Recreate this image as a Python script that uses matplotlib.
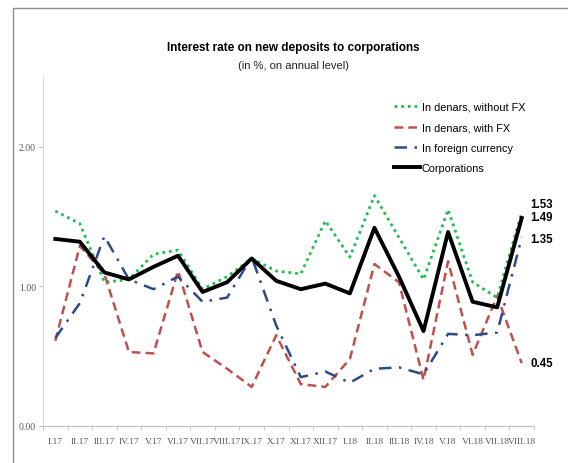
import matplotlib.pyplot as plt
from matplotlib.patches import Rectangle

# month labels
months = ["I.17", "II.17", "III.17", "IV.17", "V.17", "VI.17", "VII.17", "VIII.17",
          "IX.17", "X.17", "XI.17", "XII.17", "I.18", "II.18", "III.18", "IV.18",
          "V.18", "VI.18", "VII.18", "VIII.18"]

# series (in %)
without_fx = [1.54, 1.45, 1.03, 1.05, 1.23, 1.26, 0.98, 1.07, 1.20, 1.11,
              1.09, 1.47, 1.21, 1.65, 1.35, 1.05, 1.55, 1.03, 0.92, 1.53]
with_fx = [0.61, 1.29, 1.09, 0.53, 0.52, 1.11, 0.53, 0.41, 0.28, 0.65,
           0.30, 0.28, 0.48, 1.16, 1.03, 0.33, 1.18, 0.51, 0.93, 0.45]
foreign = [0.63, 0.88, 1.36, 1.05, 0.98, 1.07, 0.89, 0.92, 1.21, 0.72,
           0.35, 0.39, 0.31, 0.41, 0.42, 0.37, 0.66, 0.65, 0.67, 1.35]
corporations = [1.34, 1.32, 1.10, 1.05, 1.14, 1.22, 0.96, 1.03, 1.20, 1.04,
                0.98, 1.02, 0.95, 1.42, 1.07, 0.68, 1.39, 0.89, 0.85, 1.49]

sans = ["Liberation Sans", "DejaVu Sans"]
serif = ["Liberation Serif", "DejaVu Serif"]

fig = plt.figure(figsize=(5.68, 4.64), dpi=100)
ax = fig.add_axes([43 / 568, 1 - 427 / 464, (534 - 43) / 568, (427 - 78) / 464])

# outer frame of the original picture
fig.patches.append(Rectangle((13 / 568, -0.1), 1.2, 1 - 9 / 464 + 0.1,
                             transform=fig.transFigure, fill=False,
                             edgecolor="#8c8c8c", linewidth=1.0))

x = list(range(len(months)))
ax.plot(x, without_fx, color="#1fbf4f", linestyle=(0, (1, 1.4)), linewidth=2,
        label="In denars, without FX")
ax.plot(x, with_fx, color="#c0504d", linestyle=(0, (3.5, 2)), linewidth=1.8,
        label="In denars, with FX")
ax.plot(x, foreign, color="#2c4a8a", linestyle=(0, (5, 3, 1, 3)), linewidth=1.8,
        label="In foreign currency")
ax.plot(x, corporations, color="black", linewidth=2.8, label="Corporations")

# end-of-period value labels
last = len(months) - 1
for vals, dy in [(without_fx, 6), (corporations, 1), (foreign, -1), (with_fx, 0)]:
    ax.annotate(f"{vals[last]:.2f}", (last, vals[last]), xytext=(6, dy),
                textcoords="offset points", va="center", ha="left",
                fontsize=8.3, fontweight="bold", family=sans, color="black",
                annotation_clip=False)

ax.set_xlim(-0.5, last + 0.5)
ax.set_ylim(0, 2.5)
ax.set_yticks([0, 1, 2])
ax.set_yticklabels(["0.00", "1.00", "2.00"], family=serif, fontsize=7, color="#595959")
ax.set_xticks(x)
ax.set_xticklabels(months, family=serif, fontsize=6.8, color="#595959")
ax.set_xticks([i - 0.5 for i in range(len(months) + 1)], minor=True)
ax.tick_params(axis="x", which="major", length=0, pad=8)
ax.tick_params(axis="x", which="minor", length=3, color="#bfbfbf", direction="out")
ax.tick_params(axis="y", length=3, color="#bfbfbf", pad=2)

for s in ["top", "right"]:
    ax.spines[s].set_visible(False)
ax.spines["left"].set_color("#d9d9d9")
ax.spines["bottom"].set_color("#bfbfbf")

fig.text(293 / 568, 1 - 48 / 464, "Interest rate on new deposits to corporations",
         ha="center", va="center", fontsize=8.5, fontweight="bold", family=sans)
fig.text(293 / 568, 1 - 66 / 464, "(in %, on annual level)",
         ha="center", va="center", fontsize=8, family=sans, color="#222222")

leg = ax.legend(loc="upper left", bbox_to_anchor=((394 - 43) / 491, (427 - 103) / 349),
                frameon=False, prop={"family": sans, "size": 7.8},
                handlelength=2.4, handletextpad=0.15, labelspacing=0.95,
                borderaxespad=0, borderpad=0)

fig.savefig("out.png", dpi=100)
